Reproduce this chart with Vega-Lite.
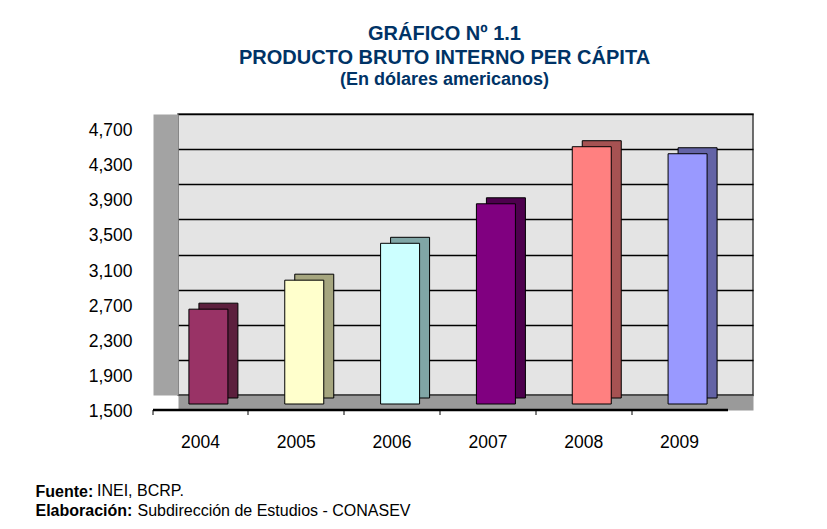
{
  "$schema": "https://vega.github.io/schema/vega-lite/v6.json",
  "width": 575,
  "height": 281,
  "autosize": "none",
  "padding": {"left": 178, "top": 114, "right": 74, "bottom": 134},
  "background": "white",
  "config": {
    "font": "Liberation Sans",
    "view": {"fill": "#e4e4e4", "stroke": "#404040", "strokeWidth": 1.5}
  },
  "title": {
    "text": ["GRÁFICO Nº 1.1", "PRODUCTO BRUTO INTERNO PER CÁPITA"],
    "subtitle": "(En dólares americanos)",
    "font": "Liberation Sans",
    "fontSize": 20,
    "fontWeight": "bold",
    "lineHeight": 24,
    "color": "#003366",
    "subtitleFont": "Liberation Sans",
    "subtitleFontSize": 18,
    "subtitleFontWeight": "bold",
    "subtitleColor": "#003366",
    "subtitlePadding": 3,
    "anchor": "middle",
    "dx": -21,
    "offset": 25
  },
  "data": {
    "values": [
      {"year": "2004", "value": 2580},
      {"year": "2005", "value": 2910},
      {"year": "2006", "value": 3330},
      {"year": "2007", "value": 3780},
      {"year": "2008", "value": 4430},
      {"year": "2009", "value": 4350}
    ]
  },
  "layer": [
    {
      "mark": {"type": "bar", "width": 39, "xOffset": -7.5, "yOffset": 3, "y2Offset": 3, "stroke": "#000000", "strokeWidth": 1},
      "encoding": {
        "x": {
          "field": "year", "type": "ordinal",
          "scale": {"paddingInner": 0, "paddingOuter": 0},
          "axis": {
            "orient": "bottom", "offset": 7.5, "domainWidth": 15, "domainColor": "#9a9a9a",
            "labels": false, "ticks": false, "grid": false,
            "title": "Fuente:",
            "titleFont": "Liberation Sans", "titleFontSize": 16, "titleFontWeight": "bold", "titleColor": "#000000",
            "titleBaseline": "alphabetic", "titleAlign": "left", "titleAngle": 0,
            "titleX": -143, "titleY": 93.5
          }
        },
        "y": {
          "field": "value", "type": "quantitative",
          "scale": {"domain": [1500, 4700], "zero": false, "nice": false},
          "axis": {
            "orient": "left", "offset": 12.5, "domainWidth": 25, "domainColor": "#a3a3a3",
            "values": [1500, 1900, 2300, 2700, 3100, 3500, 3900, 4300, 4700],
            "tickCount": 20,
            "format": ",.0f", "ticks": false, "tickSize": 0,
            "labelFont": "Liberation Sans", "labelFontSize": 17.5, "labelColor": "#000000",
            "labelPadding": 33.5, "labelOffset": 16.5, "labelOverlap": false,
            "grid": true, "gridColor": "#000000", "gridWidth": 1.3,
            "title": "Subdirección de Estudios - CONASEV",
            "titleFont": "Liberation Sans", "titleFontSize": 16, "titleFontWeight": "normal", "titleColor": "#000000",
            "titleBaseline": "alphabetic", "titleAlign": "left", "titleAngle": 0,
            "titleX": -28.5, "titleY": 401
          }
        },
        "y2": {"datum": 1500},
        "color": {
          "field": "year", "type": "nominal", "legend": null,
          "scale": {"domain": ["2004", "2005", "2006", "2007", "2008", "2009"], "range": ["#5c1f3d", "#a6a67f", "#80a6a6", "#4d004d", "#a65252", "#6363a6"]}
        }
      }
    },
    {
      "mark": {"type": "bar", "width": 39, "xOffset": -17.5, "yOffset": 9, "y2Offset": 9, "stroke": "#000000", "strokeWidth": 1},
      "encoding": {
        "x": {
          "field": "year", "type": "ordinal",
          "axis": {
            "orient": "bottom", "offset": 40, "translate": -25,
            "domainColor": "#000000", "domainWidth": 2.5,
            "bandPosition": 0, "ticks": true, "tickSize": 5, "tickColor": "#000000", "tickWidth": 1,
            "labelAngle": 0, "labelOffset": 0, "labelPadding": 19,
            "labelFont": "Liberation Sans", "labelFontSize": 17.5, "labelColor": "#000000",
            "grid": false,
            "title": "INEI, BCRP.",
            "titleFont": "Liberation Sans", "titleFontSize": 16, "titleFontWeight": "normal", "titleColor": "#000000",
            "titleBaseline": "alphabetic", "titleAlign": "left", "titleAngle": 0,
            "titleX": -56, "titleY": 86
          }
        },
        "y": {
          "field": "value", "type": "quantitative",
          "axis": {
            "orient": "right", "domain": false, "labels": false, "ticks": false, "grid": false,
            "title": "Elaboración:",
            "titleFont": "Liberation Sans", "titleFontSize": 16, "titleFontWeight": "bold", "titleColor": "#000000",
            "titleBaseline": "alphabetic", "titleAlign": "left", "titleAngle": 0,
            "titleX": -718, "titleY": 401
          }
        },
        "y2": {"datum": 1500},
        "color": {
          "field": "year", "type": "nominal", "legend": null,
          "scale": {"domain": ["2004", "2005", "2006", "2007", "2008", "2009"], "range": ["#993366", "#ffffcc", "#ccffff", "#800080", "#ff8080", "#9999ff"]}
        }
      }
    }
  ],
  "resolve": {"scale": {"color": "independent"}, "axis": {"x": "independent", "y": "independent"}}
}
